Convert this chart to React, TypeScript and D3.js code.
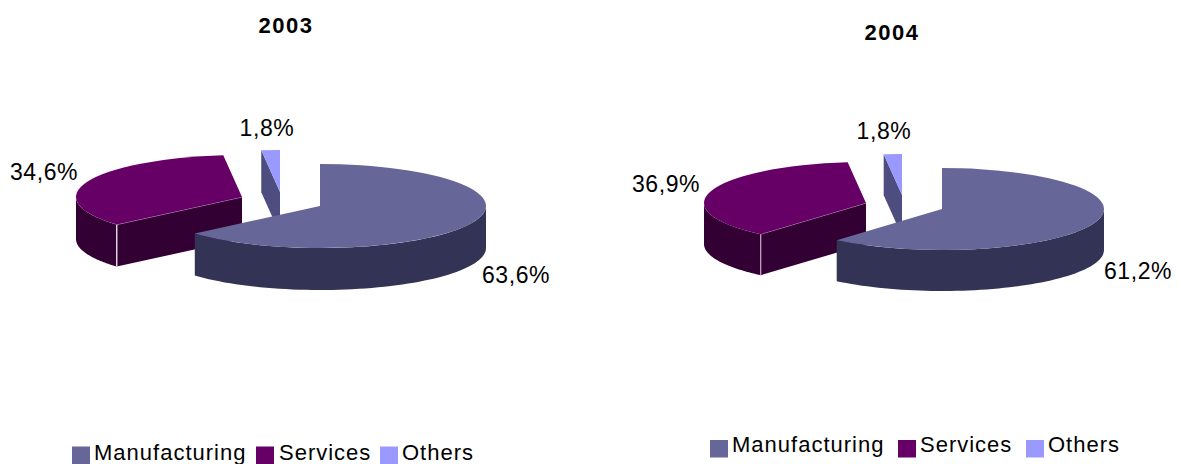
import React from "react";
import * as d3 from "d3";

const categories = ["Manufacturing", "Services", "Others"];
const years = ["2003", "2004"];
const shares2003 = [63.6, 34.6, 1.8];
const shares2004 = [61.2, 36.9, 1.8];
const topColors = ["#666699", "#660066", "#9999ff"];
const sideColors = ["#333355", "#330033", "#4d4d80"];

const FONT = "'Liberation Sans', Arial, sans-serif";

// Each slice is pulled away from the pie on its own, so it carries its own apex.
const panels = [
  {
    year: years[0], values: shares2003, rx: 166, ry: 42, depth: 42,
    apexes: [[320, 206], [242, 197], [280, 192]],
    title: [286, 33],
    labels: [[516, 283], [44, 180], [267, 136]],
    legendY: 460, swatchY: 446.5, legend: [[72, 94], [256, 279], [380, 402]],
    edgeStroke: "#ffffff",
  },
  {
    year: years[1], values: shares2004, rx: 162, ry: 41, depth: 41,
    apexes: [[942, 209], [866, 203], [902, 195]],
    title: [892, 40],
    labels: [[1138, 279], [666, 192], [884, 139]],
    legendY: 452, swatchY: 440, legend: [[710, 732], [898, 920], [1026, 1048]],
    edgeStroke: "#c9a9c9",
  },
];

function Slice3D({ slice, index, panel }) {
  const { rx, ry, depth, apexes } = panel;
  const [cx, cy] = apexes[index];
  const point = (a: number, drop = 0): [number, number] => [
    cx + rx * Math.sin(a),
    cy - ry * Math.cos(a) + drop,
  ];
  const top = d3.arc()({
    innerRadius: 0,
    outerRadius: rx,
    startAngle: slice.startAngle,
    endAngle: slice.endAngle,
  });

  // Rim: only the part facing the viewer (between 90 and 270 degrees) is visible.
  const from = Math.max(slice.startAngle, Math.PI / 2);
  const to = Math.min(slice.endAngle, (3 * Math.PI) / 2);
  let rim = null;
  if (to > from) {
    const angles = d3.range(0, 61).map((i) => from + ((to - from) * i) / 60);
    rim = d3.line()([
      ...angles.map((a) => point(a)),
      ...angles.slice().reverse().map((a) => point(a, depth)),
    ]) + "Z";
  }

  // Cut face along the slice's leading edge, visible when it turns toward the viewer.
  const cut = d3.line()([
    [cx, cy],
    point(slice.startAngle),
    point(slice.startAngle, depth),
    [cx, cy + depth],
  ]) + "Z";
  const showCut = index > 0;
  const corner = point(slice.startAngle);

  return (
    <g>
      {showCut && <path d={cut} fill={sideColors[index]} />}
      {rim && <path d={rim} fill={sideColors[index]} />}
      {index === 1 && (
        <>
          <line x1={corner[0]} y1={corner[1]} x2={corner[0]} y2={corner[1] + depth}
            stroke={panel.edgeStroke} strokeWidth={1.2} />
          <line x1={cx} y1={cy} x2={corner[0]} y2={corner[1]}
            stroke="#c9a9c9" strokeWidth={0.8} />
        </>
      )}
      <path d={top} transform={`translate(${cx},${cy}) scale(1,${ry / rx})`} fill={topColors[index]} />
    </g>
  );
}

function Panel({ panel }) {
  const slices = d3.pie().sort(null).value((d: number) => d)(panel.values);
  const label = (v: number) => d3.format(".1f")(v).replace(".", ",") + "%";
  // Back slices first, so Manufacturing overlaps the others.
  const order = [2, 1, 0];
  return (
    <g fontFamily={FONT} fill="#000">
      <text x={panel.title[0]} y={panel.title[1]} textAnchor="middle" fontWeight="bold" fontSize={22} letterSpacing={1.5}>
        {panel.year}
      </text>
      {order.map((i) => (
        <Slice3D key={i} slice={slices[i]} index={i} panel={panel} />
      ))}
      {panel.values.map((v, i) => (
        <text key={i} x={panel.labels[i][0]} y={panel.labels[i][1]} textAnchor="middle" fontSize={23} letterSpacing={0.6}>
          {label(v)}
        </text>
      ))}
      {categories.map((c, i) => (
        <g key={c}>
          <rect x={panel.legend[i][0]} y={panel.swatchY} width={18} height={17.5} fill={topColors[i]} />
          <text x={panel.legend[i][1]} y={panel.legendY} fontSize={22} letterSpacing={1}>{c}</text>
        </g>
      ))}
    </g>
  );
}

export default function App() {
  return (
    <svg width={1179} height={464} style={{ position: "absolute", left: 0, top: 0, background: "#fff" }}>
      {panels.map((p) => (
        <Panel key={p.year} panel={p} />
      ))}
    </svg>
  );
}
